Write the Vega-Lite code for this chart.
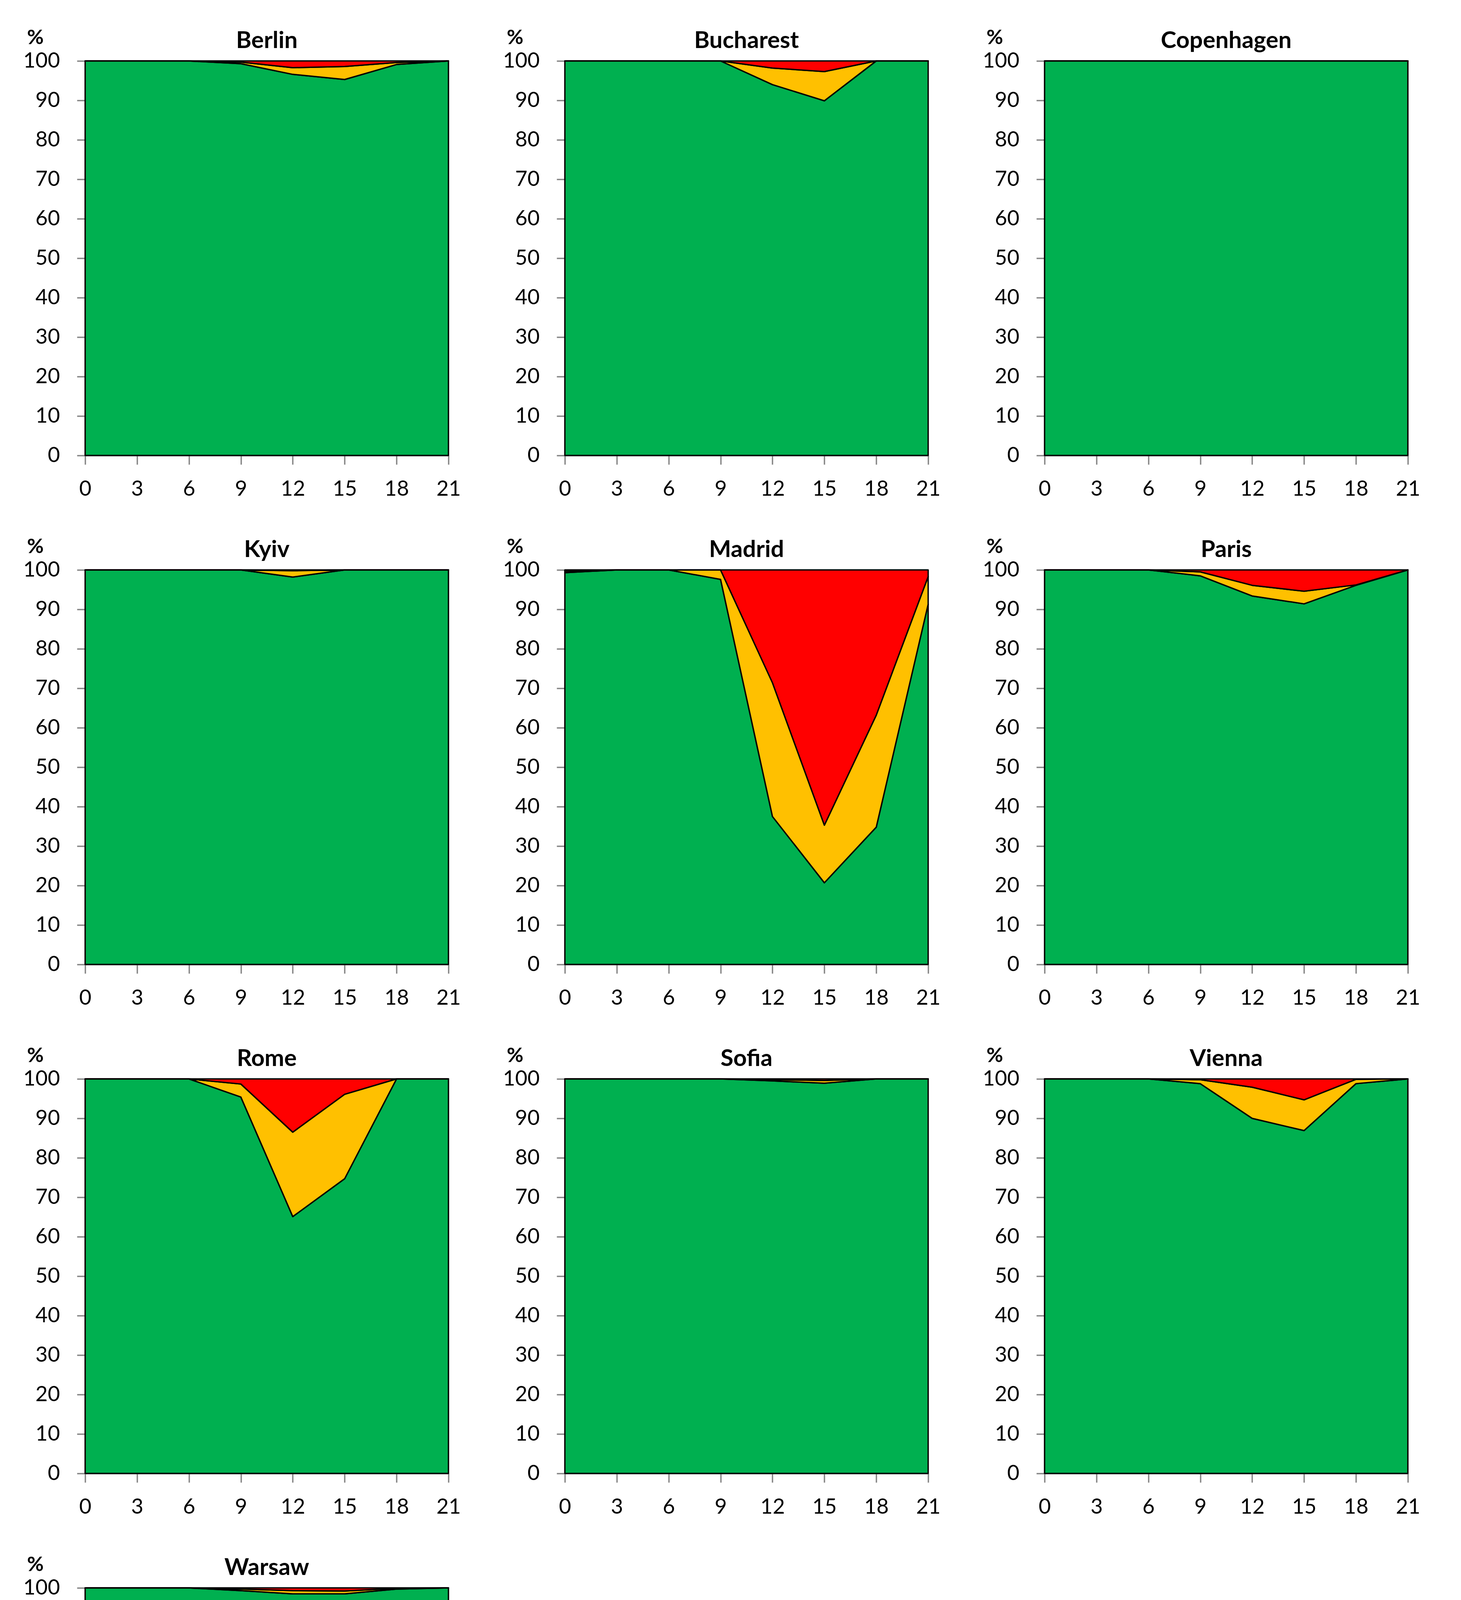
{
  "$schema": "https://vega.github.io/schema/vega-lite/v6.json",
  "background": "white",
  "padding": {"left": 59, "top": 70, "right": 5, "bottom": 5},
  "bounds": "flush",
  "columns": 3,
  "spacing": {"row": 293, "column": 298},
  "datasets": {
    "levels": [
      {"risk": "no risk", "level": 1},
      {"risk": "warning value", "level": 2},
      {"risk": "dangerous value", "level": 3}
    ]
  },
  "data": {"values": [
    {"city":"Berlin","hour":0,"no risk":100,"warning value":0,"dangerous value":0},
    {"city":"Berlin","hour":3,"no risk":100,"warning value":0,"dangerous value":0},
    {"city":"Berlin","hour":6,"no risk":100,"warning value":0,"dangerous value":0},
    {"city":"Berlin","hour":9,"no risk":99.3,"warning value":0.4,"dangerous value":0.3},
    {"city":"Berlin","hour":12,"no risk":96.6,"warning value":1.7,"dangerous value":1.7},
    {"city":"Berlin","hour":15,"no risk":95.3,"warning value":3.3,"dangerous value":1.4},
    {"city":"Berlin","hour":18,"no risk":99.1,"warning value":0.5,"dangerous value":0.4},
    {"city":"Berlin","hour":21,"no risk":100,"warning value":0,"dangerous value":0},
    {"city":"Bucharest","hour":0,"no risk":100,"warning value":0,"dangerous value":0},
    {"city":"Bucharest","hour":3,"no risk":100,"warning value":0,"dangerous value":0},
    {"city":"Bucharest","hour":6,"no risk":100,"warning value":0,"dangerous value":0},
    {"city":"Bucharest","hour":9,"no risk":100,"warning value":0,"dangerous value":0},
    {"city":"Bucharest","hour":12,"no risk":94.0,"warning value":4.2,"dangerous value":1.8},
    {"city":"Bucharest","hour":15,"no risk":89.9,"warning value":7.4,"dangerous value":2.7},
    {"city":"Bucharest","hour":18,"no risk":100,"warning value":0,"dangerous value":0},
    {"city":"Bucharest","hour":21,"no risk":100,"warning value":0,"dangerous value":0},
    {"city":"Copenhagen","hour":0,"no risk":100,"warning value":0,"dangerous value":0},
    {"city":"Copenhagen","hour":3,"no risk":100,"warning value":0,"dangerous value":0},
    {"city":"Copenhagen","hour":6,"no risk":100,"warning value":0,"dangerous value":0},
    {"city":"Copenhagen","hour":9,"no risk":100,"warning value":0,"dangerous value":0},
    {"city":"Copenhagen","hour":12,"no risk":100,"warning value":0,"dangerous value":0},
    {"city":"Copenhagen","hour":15,"no risk":100,"warning value":0,"dangerous value":0},
    {"city":"Copenhagen","hour":18,"no risk":100,"warning value":0,"dangerous value":0},
    {"city":"Copenhagen","hour":21,"no risk":100,"warning value":0,"dangerous value":0},
    {"city":"Kyiv","hour":0,"no risk":100,"warning value":0,"dangerous value":0},
    {"city":"Kyiv","hour":3,"no risk":100,"warning value":0,"dangerous value":0},
    {"city":"Kyiv","hour":6,"no risk":100,"warning value":0,"dangerous value":0},
    {"city":"Kyiv","hour":9,"no risk":100,"warning value":0,"dangerous value":0},
    {"city":"Kyiv","hour":12,"no risk":98.2,"warning value":1.6,"dangerous value":0.2},
    {"city":"Kyiv","hour":15,"no risk":100,"warning value":0,"dangerous value":0},
    {"city":"Kyiv","hour":18,"no risk":100,"warning value":0,"dangerous value":0},
    {"city":"Kyiv","hour":21,"no risk":100,"warning value":0,"dangerous value":0},
    {"city":"Madrid","hour":0,"no risk":99.3,"warning value":0.4,"dangerous value":0.3},
    {"city":"Madrid","hour":3,"no risk":100,"warning value":0,"dangerous value":0},
    {"city":"Madrid","hour":6,"no risk":100,"warning value":0,"dangerous value":0},
    {"city":"Madrid","hour":9,"no risk":97.6,"warning value":2.4,"dangerous value":0},
    {"city":"Madrid","hour":12,"no risk":37.5,"warning value":33.9,"dangerous value":28.6},
    {"city":"Madrid","hour":15,"no risk":20.7,"warning value":14.6,"dangerous value":64.7},
    {"city":"Madrid","hour":18,"no risk":34.8,"warning value":28.4,"dangerous value":36.8},
    {"city":"Madrid","hour":21,"no risk":91.3,"warning value":7.0,"dangerous value":1.7},
    {"city":"Paris","hour":0,"no risk":100,"warning value":0,"dangerous value":0},
    {"city":"Paris","hour":3,"no risk":100,"warning value":0,"dangerous value":0},
    {"city":"Paris","hour":6,"no risk":100,"warning value":0,"dangerous value":0},
    {"city":"Paris","hour":9,"no risk":98.5,"warning value":1.0,"dangerous value":0.5},
    {"city":"Paris","hour":12,"no risk":93.4,"warning value":2.7,"dangerous value":3.9},
    {"city":"Paris","hour":15,"no risk":91.4,"warning value":3.2,"dangerous value":5.4},
    {"city":"Paris","hour":18,"no risk":96.1,"warning value":0.1,"dangerous value":3.8},
    {"city":"Paris","hour":21,"no risk":100,"warning value":0,"dangerous value":0},
    {"city":"Rome","hour":0,"no risk":100,"warning value":0,"dangerous value":0},
    {"city":"Rome","hour":3,"no risk":100,"warning value":0,"dangerous value":0},
    {"city":"Rome","hour":6,"no risk":100,"warning value":0,"dangerous value":0},
    {"city":"Rome","hour":9,"no risk":95.4,"warning value":3.3,"dangerous value":1.3},
    {"city":"Rome","hour":12,"no risk":65.1,"warning value":21.4,"dangerous value":13.5},
    {"city":"Rome","hour":15,"no risk":74.7,"warning value":21.4,"dangerous value":3.9},
    {"city":"Rome","hour":18,"no risk":100,"warning value":0,"dangerous value":0},
    {"city":"Rome","hour":21,"no risk":100,"warning value":0,"dangerous value":0},
    {"city":"Sofia","hour":0,"no risk":100,"warning value":0,"dangerous value":0},
    {"city":"Sofia","hour":3,"no risk":100,"warning value":0,"dangerous value":0},
    {"city":"Sofia","hour":6,"no risk":100,"warning value":0,"dangerous value":0},
    {"city":"Sofia","hour":9,"no risk":100,"warning value":0,"dangerous value":0},
    {"city":"Sofia","hour":12,"no risk":99.5,"warning value":0.3,"dangerous value":0.2},
    {"city":"Sofia","hour":15,"no risk":98.9,"warning value":0.7,"dangerous value":0.4},
    {"city":"Sofia","hour":18,"no risk":100,"warning value":0,"dangerous value":0},
    {"city":"Sofia","hour":21,"no risk":100,"warning value":0,"dangerous value":0},
    {"city":"Vienna","hour":0,"no risk":100,"warning value":0,"dangerous value":0},
    {"city":"Vienna","hour":3,"no risk":100,"warning value":0,"dangerous value":0},
    {"city":"Vienna","hour":6,"no risk":100,"warning value":0,"dangerous value":0},
    {"city":"Vienna","hour":9,"no risk":98.8,"warning value":1.0,"dangerous value":0.2},
    {"city":"Vienna","hour":12,"no risk":90.0,"warning value":7.9,"dangerous value":2.1},
    {"city":"Vienna","hour":15,"no risk":86.9,"warning value":7.8,"dangerous value":5.3},
    {"city":"Vienna","hour":18,"no risk":98.8,"warning value":1.1,"dangerous value":0.1},
    {"city":"Vienna","hour":21,"no risk":100,"warning value":0,"dangerous value":0},
    {"city":"Warsaw","hour":0,"no risk":100,"warning value":0,"dangerous value":0},
    {"city":"Warsaw","hour":3,"no risk":100,"warning value":0,"dangerous value":0},
    {"city":"Warsaw","hour":6,"no risk":100,"warning value":0,"dangerous value":0},
    {"city":"Warsaw","hour":9,"no risk":99.3,"warning value":0.4,"dangerous value":0.3},
    {"city":"Warsaw","hour":12,"no risk":98.5,"warning value":0.8,"dangerous value":0.7},
    {"city":"Warsaw","hour":15,"no risk":98.5,"warning value":0.7,"dangerous value":0.8},
    {"city":"Warsaw","hour":18,"no risk":99.7,"warning value":0.2,"dangerous value":0.1},
    {"city":"Warsaw","hour":21,"no risk":100,"warning value":0,"dangerous value":0}
  ]},
  "transform": [
    {"fold": ["no risk", "warning value", "dangerous value"], "as": ["risk", "pct"]},
    {"lookup": "risk", "from": {"data": {"name": "levels"}, "key": "risk", "fields": ["level"]}}
  ],
  "concat": [
    {"title": "Berlin", "width": 930, "height": 1010, "transform": [{"filter": "datum.city === 'Berlin'"}],
     "mark": {"type": "area", "stroke": "#000", "strokeWidth": 3.5, "strokeJoin": "round"},
     "encoding": {
      "x": {"field": "hour", "type": "quantitative", "scale": {"domain": [0, 21], "nice": false, "zero": false}, "axis": {"values": [0,3,6,9,12,15,18,21], "title": null}},
      "y": {"field": "pct", "type": "quantitative", "stack": "zero", "scale": {"domain": [0, 100], "nice": false}, "axis": {"values": [0,10,20,30,40,50,60,70,80,90,100], "title": "%"}},
      "color": {"field": "risk", "type": "nominal", "scale": {"domain": ["no risk","warning value","dangerous value"], "range": ["#00B050","#FFC000","#FF0000"]},
        "legend": {"orient": "none", "legendX": 1112, "legendY": 4731, "title": null}},
      "order": {"field": "level", "type": "quantitative"}}},
    {"title": "Bucharest", "width": 930, "height": 1010, "transform": [{"filter": "datum.city === 'Bucharest'"}],
     "mark": {"type": "area", "stroke": "#000", "strokeWidth": 3.5, "strokeJoin": "round"},
     "encoding": {
      "x": {"field": "hour", "type": "quantitative", "scale": {"domain": [0, 21], "nice": false, "zero": false}, "axis": {"values": [0,3,6,9,12,15,18,21], "title": null}},
      "y": {"field": "pct", "type": "quantitative", "stack": "zero", "scale": {"domain": [0, 100], "nice": false}, "axis": {"values": [0,10,20,30,40,50,60,70,80,90,100], "title": "%"}},
      "color": {"field": "risk", "type": "nominal", "scale": {"domain": ["no risk","warning value","dangerous value"], "range": ["#00B050","#FFC000","#FF0000"]},
        "legend": {"orient": "none", "legendX": 1112, "legendY": 4731, "title": null}},
      "order": {"field": "level", "type": "quantitative"}}},
    {"title": "Copenhagen", "width": 930, "height": 1010, "transform": [{"filter": "datum.city === 'Copenhagen'"}],
     "mark": {"type": "area", "stroke": "#000", "strokeWidth": 3.5, "strokeJoin": "round"},
     "encoding": {
      "x": {"field": "hour", "type": "quantitative", "scale": {"domain": [0, 21], "nice": false, "zero": false}, "axis": {"values": [0,3,6,9,12,15,18,21], "title": null}},
      "y": {"field": "pct", "type": "quantitative", "stack": "zero", "scale": {"domain": [0, 100], "nice": false}, "axis": {"values": [0,10,20,30,40,50,60,70,80,90,100], "title": "%"}},
      "color": {"field": "risk", "type": "nominal", "scale": {"domain": ["no risk","warning value","dangerous value"], "range": ["#00B050","#FFC000","#FF0000"]},
        "legend": {"orient": "none", "legendX": 1112, "legendY": 4731, "title": null}},
      "order": {"field": "level", "type": "quantitative"}}},
    {"title": "Kyiv", "width": 930, "height": 1010, "transform": [{"filter": "datum.city === 'Kyiv'"}],
     "mark": {"type": "area", "stroke": "#000", "strokeWidth": 3.5, "strokeJoin": "round"},
     "encoding": {
      "x": {"field": "hour", "type": "quantitative", "scale": {"domain": [0, 21], "nice": false, "zero": false}, "axis": {"values": [0,3,6,9,12,15,18,21], "title": null}},
      "y": {"field": "pct", "type": "quantitative", "stack": "zero", "scale": {"domain": [0, 100], "nice": false}, "axis": {"values": [0,10,20,30,40,50,60,70,80,90,100], "title": "%"}},
      "color": {"field": "risk", "type": "nominal", "scale": {"domain": ["no risk","warning value","dangerous value"], "range": ["#00B050","#FFC000","#FF0000"]},
        "legend": {"orient": "none", "legendX": 1112, "legendY": 4731, "title": null}},
      "order": {"field": "level", "type": "quantitative"}}},
    {"title": "Madrid", "width": 930, "height": 1010, "transform": [{"filter": "datum.city === 'Madrid'"}],
     "mark": {"type": "area", "stroke": "#000", "strokeWidth": 3.5, "strokeJoin": "round"},
     "encoding": {
      "x": {"field": "hour", "type": "quantitative", "scale": {"domain": [0, 21], "nice": false, "zero": false}, "axis": {"values": [0,3,6,9,12,15,18,21], "title": null}},
      "y": {"field": "pct", "type": "quantitative", "stack": "zero", "scale": {"domain": [0, 100], "nice": false}, "axis": {"values": [0,10,20,30,40,50,60,70,80,90,100], "title": "%"}},
      "color": {"field": "risk", "type": "nominal", "scale": {"domain": ["no risk","warning value","dangerous value"], "range": ["#00B050","#FFC000","#FF0000"]},
        "legend": {"orient": "none", "legendX": 1112, "legendY": 4731, "title": null}},
      "order": {"field": "level", "type": "quantitative"}}},
    {"title": "Paris", "width": 930, "height": 1010, "transform": [{"filter": "datum.city === 'Paris'"}],
     "mark": {"type": "area", "stroke": "#000", "strokeWidth": 3.5, "strokeJoin": "round"},
     "encoding": {
      "x": {"field": "hour", "type": "quantitative", "scale": {"domain": [0, 21], "nice": false, "zero": false}, "axis": {"values": [0,3,6,9,12,15,18,21], "title": null}},
      "y": {"field": "pct", "type": "quantitative", "stack": "zero", "scale": {"domain": [0, 100], "nice": false}, "axis": {"values": [0,10,20,30,40,50,60,70,80,90,100], "title": "%"}},
      "color": {"field": "risk", "type": "nominal", "scale": {"domain": ["no risk","warning value","dangerous value"], "range": ["#00B050","#FFC000","#FF0000"]},
        "legend": {"orient": "none", "legendX": 1112, "legendY": 4731, "title": null}},
      "order": {"field": "level", "type": "quantitative"}}},
    {"title": "Rome", "width": 930, "height": 1010, "transform": [{"filter": "datum.city === 'Rome'"}],
     "mark": {"type": "area", "stroke": "#000", "strokeWidth": 3.5, "strokeJoin": "round"},
     "encoding": {
      "x": {"field": "hour", "type": "quantitative", "scale": {"domain": [0, 21], "nice": false, "zero": false}, "axis": {"values": [0,3,6,9,12,15,18,21], "title": null}},
      "y": {"field": "pct", "type": "quantitative", "stack": "zero", "scale": {"domain": [0, 100], "nice": false}, "axis": {"values": [0,10,20,30,40,50,60,70,80,90,100], "title": "%"}},
      "color": {"field": "risk", "type": "nominal", "scale": {"domain": ["no risk","warning value","dangerous value"], "range": ["#00B050","#FFC000","#FF0000"]},
        "legend": {"orient": "none", "legendX": 1112, "legendY": 4731, "title": null}},
      "order": {"field": "level", "type": "quantitative"}}},
    {"title": "Sofia", "width": 930, "height": 1010, "transform": [{"filter": "datum.city === 'Sofia'"}],
     "mark": {"type": "area", "stroke": "#000", "strokeWidth": 3.5, "strokeJoin": "round"},
     "encoding": {
      "x": {"field": "hour", "type": "quantitative", "scale": {"domain": [0, 21], "nice": false, "zero": false}, "axis": {"values": [0,3,6,9,12,15,18,21], "title": null}},
      "y": {"field": "pct", "type": "quantitative", "stack": "zero", "scale": {"domain": [0, 100], "nice": false}, "axis": {"values": [0,10,20,30,40,50,60,70,80,90,100], "title": "%"}},
      "color": {"field": "risk", "type": "nominal", "scale": {"domain": ["no risk","warning value","dangerous value"], "range": ["#00B050","#FFC000","#FF0000"]},
        "legend": {"orient": "none", "legendX": 1112, "legendY": 4731, "title": null}},
      "order": {"field": "level", "type": "quantitative"}}},
    {"title": "Vienna", "width": 930, "height": 1010, "transform": [{"filter": "datum.city === 'Vienna'"}],
     "mark": {"type": "area", "stroke": "#000", "strokeWidth": 3.5, "strokeJoin": "round"},
     "encoding": {
      "x": {"field": "hour", "type": "quantitative", "scale": {"domain": [0, 21], "nice": false, "zero": false}, "axis": {"values": [0,3,6,9,12,15,18,21], "title": null}},
      "y": {"field": "pct", "type": "quantitative", "stack": "zero", "scale": {"domain": [0, 100], "nice": false}, "axis": {"values": [0,10,20,30,40,50,60,70,80,90,100], "title": "%"}},
      "color": {"field": "risk", "type": "nominal", "scale": {"domain": ["no risk","warning value","dangerous value"], "range": ["#00B050","#FFC000","#FF0000"]},
        "legend": {"orient": "none", "legendX": 1112, "legendY": 4731, "title": null}},
      "order": {"field": "level", "type": "quantitative"}}},
    {"title": "Warsaw", "width": 930, "height": 1010, "transform": [{"filter": "datum.city === 'Warsaw'"}],
     "mark": {"type": "area", "stroke": "#000", "strokeWidth": 3.5, "strokeJoin": "round"},
     "encoding": {
      "x": {"field": "hour", "type": "quantitative", "scale": {"domain": [0, 21], "nice": false, "zero": false}, "axis": {"values": [0,3,6,9,12,15,18,21], "title": null}},
      "y": {"field": "pct", "type": "quantitative", "stack": "zero", "scale": {"domain": [0, 100], "nice": false}, "axis": {"values": [0,10,20,30,40,50,60,70,80,90,100], "title": "%"}},
      "color": {"field": "risk", "type": "nominal", "scale": {"domain": ["no risk","warning value","dangerous value"], "range": ["#00B050","#FFC000","#FF0000"]},
        "legend": {"orient": "none", "legendX": 1112, "legendY": 4731, "title": null}},
      "order": {"field": "level", "type": "quantitative"}}}
  ],
  "config": {
    "view": {"stroke": null},
    "title": {"font": "Lato", "fontSize": 60, "fontWeight": "bold", "color": "#000", "offset": -66, "baseline": "alphabetic", "frame": "group", "anchor": "middle"},
    "axis": {"labelFont": "Lato", "labelFontSize": 54, "labelColor": "#000", "domainColor": "#868686", "domainWidth": 3.5, "tickColor": "#868686", "tickWidth": 3.5, "grid": false, "zindex": 1},
    "axisX": {"tickSize": 23, "labelPadding": 36, "labelFlush": false},
    "axisY": {"tickSize": 21, "labelPadding": 44, "titleAngle": 0, "titleX": -128, "titleY": -44, "titleAlign": "center", "titleBaseline": "alphabetic", "titleFont": "Lato", "titleFontSize": 52, "titleFontWeight": "bold", "titleColor": "#000"},
    "legend": {"symbolType": "square", "symbolSize": 7921, "symbolStrokeWidth": 0, "symbolOpacity": 1, "labelFont": "Open Sans", "labelFontSize": 74, "labelColor": "#000", "labelOffset": 34, "rowPadding": 27, "labelLimit": 0}
  }
}
